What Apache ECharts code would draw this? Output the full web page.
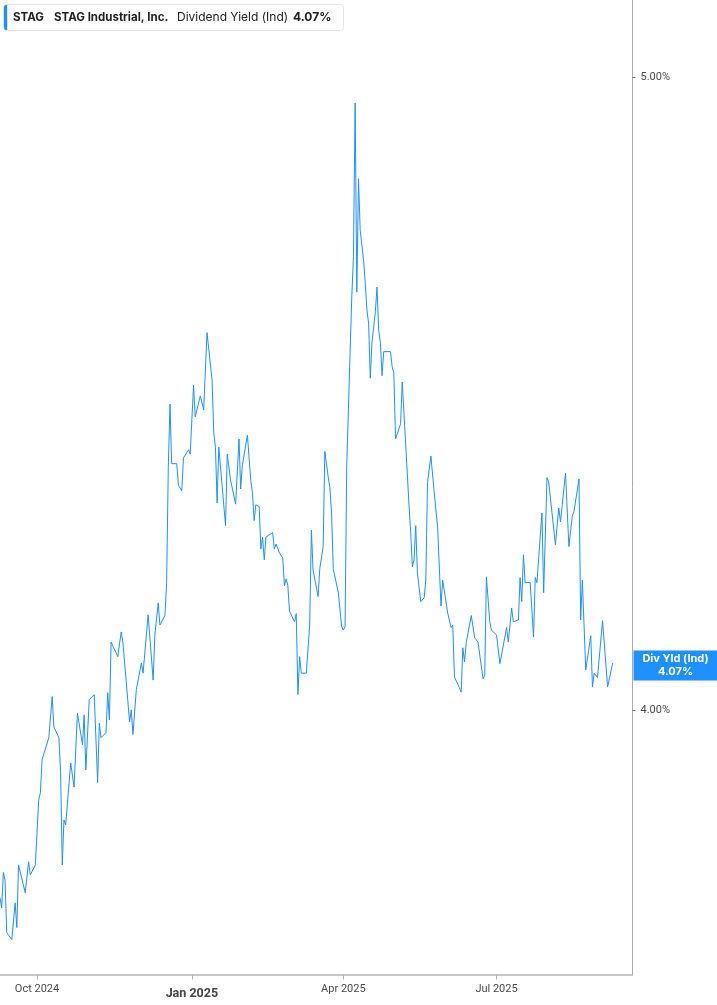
<!DOCTYPE html>
<html><head><meta charset="utf-8">
<script src="https://cdn.jsdelivr.net/npm/echarts@6/dist/echarts.min.js"></script>
<style>html,body{margin:0;padding:0;background:#fff}#c{width:717px;height:1005px}</style>
</head><body><div id="c"></div>
<script>
const dates = [
'2024-09-09','2024-09-10','2024-09-11','2024-09-12','2024-09-13','2024-09-16','2024-09-18','2024-09-19','2024-09-20','2024-09-24',
'2024-09-26','2024-09-27','2024-09-30','2024-10-02','2024-10-03','2024-10-04','2024-10-08','2024-10-10','2024-10-11','2024-10-14',
'2024-10-15','2024-10-16','2024-10-17','2024-10-18','2024-10-21','2024-10-23','2024-10-25','2024-10-28','2024-10-29','2024-10-30',
'2024-11-01','2024-11-04','2024-11-06','2024-11-07','2024-11-08','2024-11-11','2024-11-12','2024-11-13','2024-11-14','2024-11-18',
'2024-11-20','2024-11-21','2024-11-25','2024-11-26','2024-11-27','2024-11-29','2024-12-02','2024-12-03','2024-12-06','2024-12-09',
'2024-12-10','2024-12-12','2024-12-13','2024-12-16','2024-12-17','2024-12-18','2024-12-19','2024-12-20','2024-12-23','2024-12-24',
'2024-12-26','2024-12-27','2024-12-30','2024-12-31','2025-01-02','2025-01-03','2025-01-06','2025-01-07','2025-01-08','2025-01-10',
'2025-01-13','2025-01-14','2025-01-15','2025-01-16','2025-01-17','2025-01-21','2025-01-22','2025-01-24','2025-01-27','2025-01-29',
'2025-01-30','2025-01-31','2025-02-03','2025-02-05','2025-02-06','2025-02-07','2025-02-08','2025-02-10','2025-02-11','2025-02-12',
'2025-02-13','2025-02-14','2025-02-18','2025-02-19','2025-02-20','2025-02-22','2025-02-24','2025-02-25','2025-02-26','2025-02-27',
'2025-02-28','2025-03-03','2025-03-04','2025-03-05','2025-03-06','2025-03-07','2025-03-10','2025-03-12','2025-03-13','2025-03-14',
'2025-03-17','2025-03-18','2025-03-19','2025-03-20','2025-03-21','2025-03-23','2025-03-24','2025-03-25','2025-03-26','2025-03-27',
'2025-03-29','2025-03-31','2025-04-01','2025-04-02','2025-04-03','2025-04-04','2025-04-05','2025-04-06','2025-04-07','2025-04-08',
'2025-04-09','2025-04-10','2025-04-11','2025-04-13','2025-04-14','2025-04-15','2025-04-16','2025-04-17','2025-04-18','2025-04-20',
'2025-04-21','2025-04-22','2025-04-23','2025-04-24','2025-04-25','2025-04-29','2025-04-30','2025-05-01','2025-05-02','2025-05-05',
'2025-05-06','2025-05-10','2025-05-11','2025-05-12','2025-05-13','2025-05-14','2025-05-15','2025-05-17','2025-05-19','2025-05-20',
'2025-05-21','2025-05-23','2025-05-25','2025-05-27','2025-05-29','2025-05-30','2025-06-02','2025-06-03','2025-06-04','2025-06-05',
'2025-06-06','2025-06-09','2025-06-10','2025-06-11','2025-06-12','2025-06-13','2025-06-16','2025-06-18','2025-06-20','2025-06-23',
'2025-06-24','2025-06-25','2025-06-27','2025-06-28','2025-07-01','2025-07-03','2025-07-04','2025-07-07','2025-07-08','2025-07-10',
'2025-07-11','2025-07-14','2025-07-15','2025-07-16','2025-07-17','2025-07-18','2025-07-21','2025-07-23','2025-07-24','2025-07-25',
'2025-07-28','2025-07-29','2025-07-31','2025-08-01','2025-08-05','2025-08-07','2025-08-08','2025-08-11','2025-08-13','2025-08-15',
'2025-08-16','2025-08-19','2025-08-20','2025-08-21','2025-08-23','2025-08-26','2025-08-27','2025-08-28','2025-08-30','2025-09-02',
'2025-09-05','2025-09-08'
];
const yields = [
3.703,3.687,3.743,3.731,3.648,3.637,3.695,3.656,3.755,3.711,
3.760,3.739,3.755,3.858,3.869,3.921,3.956,4.021,3.973,3.956,
3.902,3.755,3.826,3.818,3.916,3.878,3.995,3.945,3.992,3.905,
4.016,4.024,3.885,3.979,3.956,3.964,4.027,3.984,4.107,4.084,
4.123,4.107,3.981,4.000,3.961,4.032,4.074,4.058,4.150,4.047,
4.118,4.169,4.134,4.149,4.201,4.384,4.483,4.389,4.389,4.355,
4.346,4.398,4.411,4.404,4.513,4.463,4.496,4.494,4.474,4.596,
4.521,4.438,4.415,4.327,4.415,4.291,4.404,4.363,4.325,4.428,
4.349,4.387,4.434,4.362,4.343,4.299,4.324,4.321,4.254,4.273,
4.237,4.273,4.280,4.254,4.262,4.248,4.240,4.196,4.207,4.197,
4.156,4.139,4.152,4.024,4.084,4.058,4.058,4.134,4.284,4.221,
4.179,4.223,4.224,4.258,4.408,4.368,4.351,4.311,4.223,4.223,
4.185,4.131,4.126,4.131,4.384,4.474,4.564,4.652,4.716,4.959,
4.660,4.839,4.758,4.711,4.675,4.632,4.611,4.524,4.580,4.629,
4.668,4.600,4.580,4.528,4.566,4.566,4.542,4.532,4.428,4.452,
4.518,4.324,4.280,4.226,4.237,4.291,4.216,4.171,4.177,4.205,
4.359,4.401,4.343,4.289,4.164,4.205,4.153,4.150,4.130,4.134,
4.052,4.035,4.028,4.098,4.076,4.106,4.149,4.114,4.107,4.049,
4.055,4.210,4.139,4.126,4.118,4.073,4.074,4.130,4.107,4.161,
4.139,4.142,4.209,4.171,4.245,4.201,4.201,4.115,4.209,4.201,
4.311,4.185,4.367,4.360,4.261,4.319,4.297,4.374,4.258,4.306,
4.313,4.365,4.142,4.205,4.063,4.117,4.036,4.058,4.051,4.141,
4.036,4.074
];
const xTickDates = ['2024-10-01','2025-01-01','2025-04-01','2025-07-01'];
const yTickValues = [4, 5];
const ticker = 'STAG';
const companyName = 'STAG Industrial, Inc.';
const metricName = 'Dividend Yield (Ind)';
const tagName = 'Div Yld (Ind)';

function ts(s){const p=s.split('-').map(Number);return new Date(p[0],p[1]-1,p[2]).getTime();}
const MONTHS=['Jan','Feb','Mar','Apr','May','Jun','Jul','Aug','Sep','Oct','Nov','Dec'];
const last = yields[yields.length-1];
const lastTxt = last.toFixed(2)+'%';
const blue = '#1E90FF';

const chart = echarts.init(document.getElementById('c'), null, {renderer:'canvas'});
chart.setOption({
  animation:false,
  backgroundColor:'#fff',
  grid:{left:0,right:84.5,top:0,bottom:30.5,containLabel:false,outerBoundsMode:'none'},
  xAxis:{
    type:'value',
    min: ts(dates[0]),
    max: new Date(2025,8,19,19).getTime(),
    axisLine:{show:true,lineStyle:{color:'#b4b4b4',width:1.5}},
    axisTick:{show:true,length:5,lineStyle:{color:'#b4b4b4',width:1},customValues:xTickDates.map(ts)},
    splitLine:{show:false},
    axisLabel:{
      customValues:xTickDates.map(ts),
      margin:9,
      formatter:function(v){const d=new Date(v);const t=MONTHS[d.getMonth()]+' '+d.getFullYear();return d.getMonth()===0?'{b|'+t+'}':'{n|'+t+'}';},
      rich:{
        n:{fontFamily:'Roboto',fontSize:11,color:'#4a4a4a'},
        b:{fontFamily:'Roboto',fontSize:12.5,fontWeight:'bold',color:'#444',padding:[4,0,0,0]}
      }
    }
  },
  yAxis:{
    type:'value',
    position:'right',
    min:3.5818,
    max:5.1216,
    axisLine:{show:true,lineStyle:{color:'#aaa',width:1}},
    axisTick:{show:true,length:3,inside:false,lineStyle:{color:'#777',width:1.2},customValues:yTickValues},
    splitLine:{show:false},
    axisLabel:{customValues:yTickValues,margin:8,fontFamily:'Roboto',fontSize:11,color:'#4a4a4a',formatter:v=>v.toFixed(2)+'%'}
  },
  series:[{
    type:'line',
    clip:false,
    data:dates.map((d,i)=>[ts(d),yields[i]]),
    showSymbol:false,
    symbol:'none',
    lineStyle:{color:blue,width:1},
    markLine:{
      silent:true,
      symbol:['none','none'],
      lineStyle:{color:'rgba(0,0,0,0)',width:0},
      data:[{yAxis:last}],
      label:{
        show:true,position:'end',distance:1,
        backgroundColor:blue,padding:[2,4,2,4],
        formatter:()=>'{a|'+tagName+'}\n{a|'+lastTxt+'}',
        rich:{a:{width:76,align:'center',color:'#fff',fontFamily:'Inter',fontWeight:'bold',fontSize:11,lineHeight:13}}
      }
    }
  }],
  graphic:[
    {type:'rect',shape:{x:3.5,y:4.5,width:340,height:26,r:3},style:{fill:'#fff',stroke:'#e4e4e4',lineWidth:1},z:10},
    {type:'rect',shape:{x:4,y:5,width:3.2,height:25,r:[2,0,0,2]},style:{fill:blue},z:11},
    {type:'text',x:13,y:17.5,style:{text:ticker,fontFamily:'Inter',fontWeight:'bold',fontSize:11.5,fill:'#222',verticalAlign:'middle'},z:11},
    {type:'text',x:54,y:17.5,style:{text:companyName,fontFamily:'Inter',fontWeight:'bold',fontSize:11.5,fill:'#222',verticalAlign:'middle'},z:11},
    {type:'text',x:177,y:17.5,style:{text:metricName,fontFamily:'Inter',fontSize:12,fill:'#222',verticalAlign:'middle'},z:11},
    {type:'text',x:293,y:17.5,style:{text:lastTxt,fontFamily:'Inter',fontWeight:'bold',fontSize:12,fill:'#222',verticalAlign:'middle'},z:11}
  ]
});
</script>
</body></html>
